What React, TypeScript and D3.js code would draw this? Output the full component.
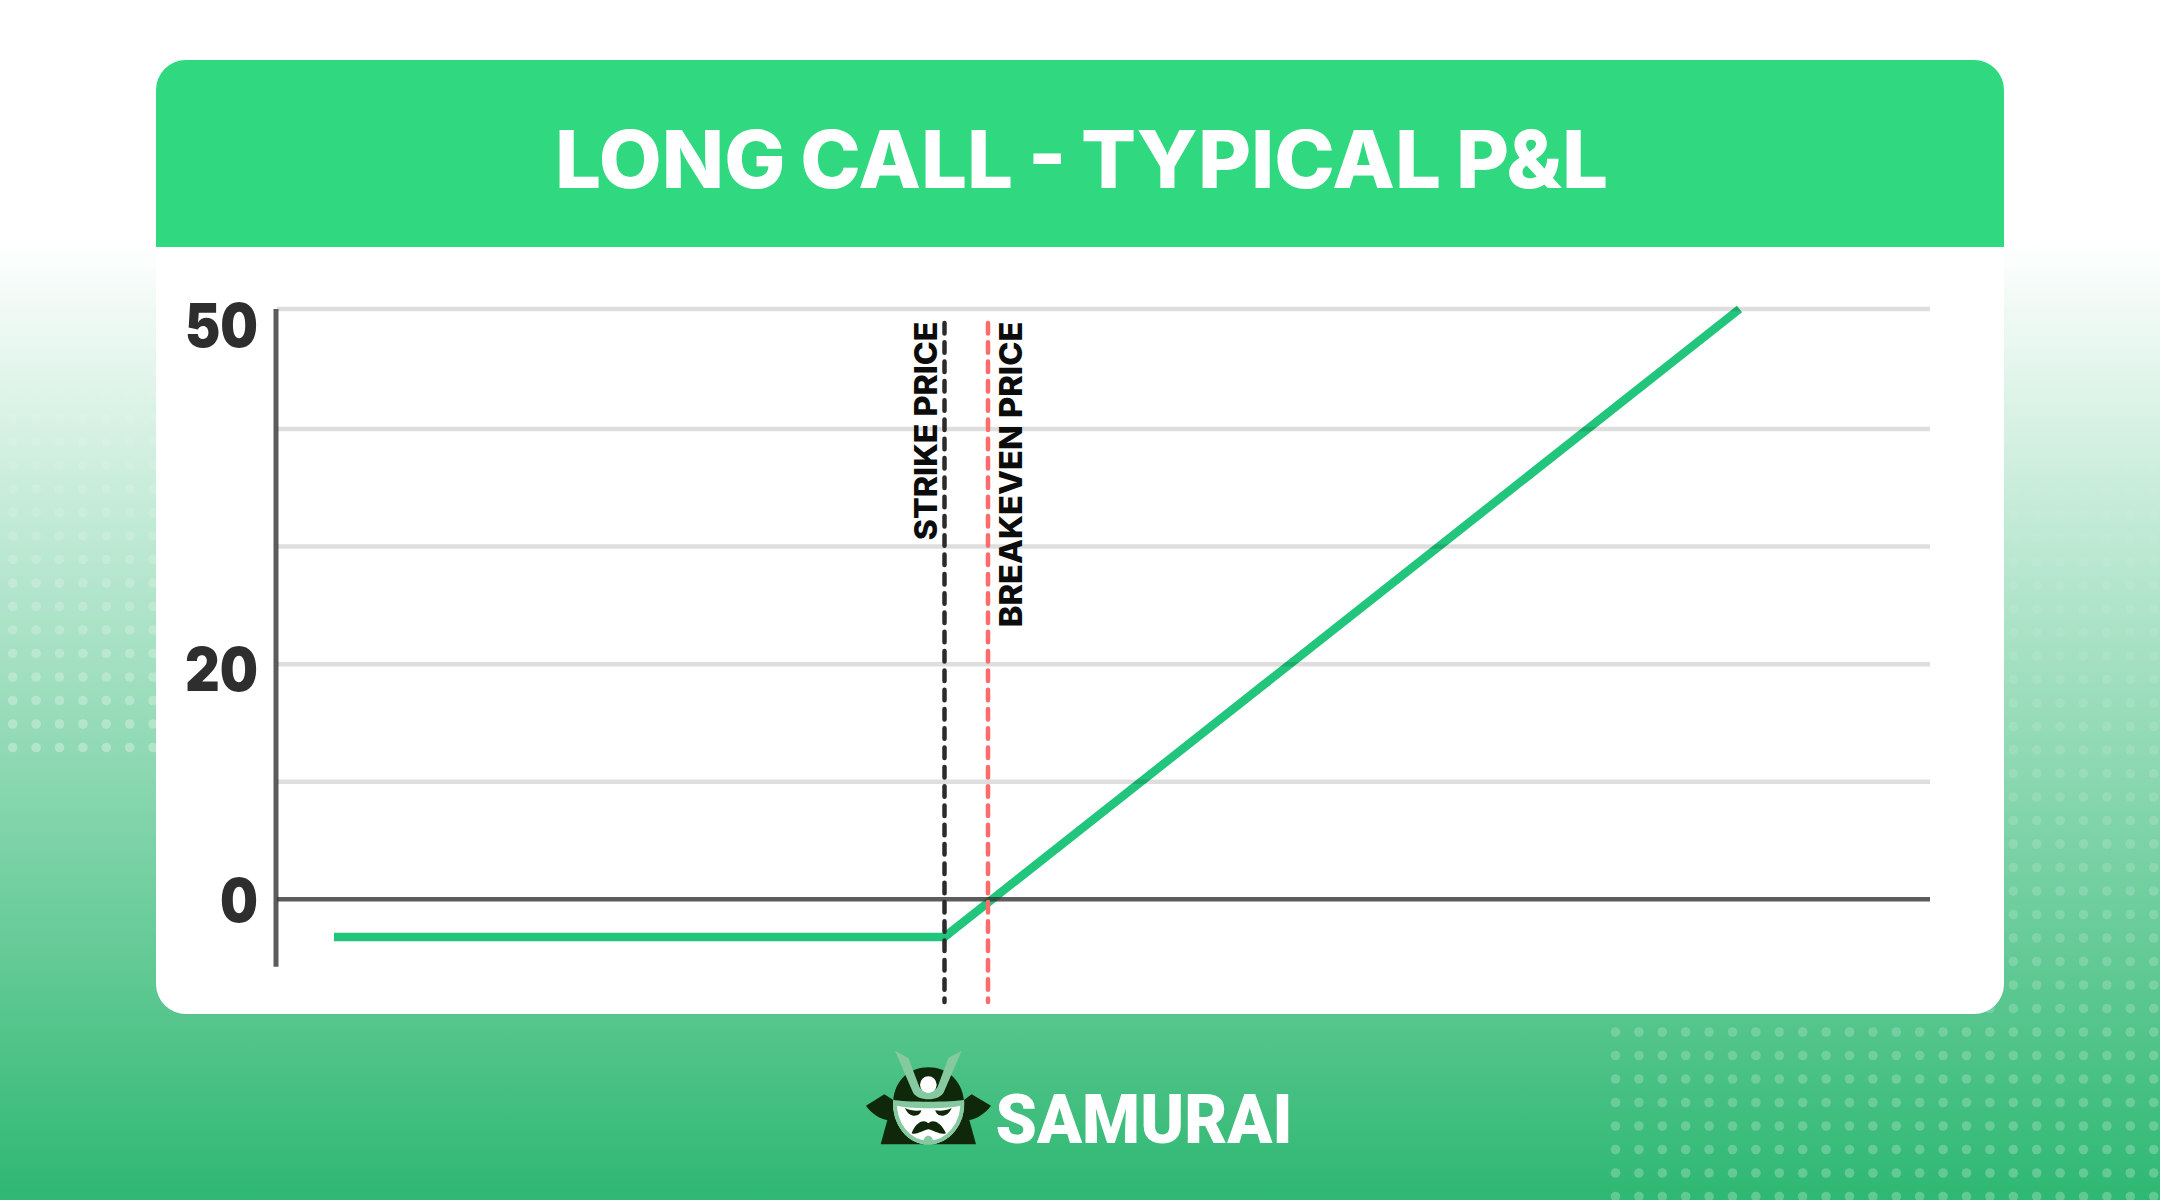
import React, { useEffect, useRef } from 'react';
import * as d3 from 'd3';

const TITLE = 'LONG CALL - TYPICAL P&L';
const BRAND = 'SAMURAI';

// payoff at expiry
const prices = [59.3, 100, 153];
const pnl = [-3.2, -3.2, 50.2];

// the top gridline sits a little above the regular spacing in the picture
const gridTicks = [10, 20, 30, 40, 50.2];
const labelTicks = [0, 20, 50];

const strikePrice = 100;
const breakevenPrice = 102.9;
const markerLabels = ['STRIKE PRICE', 'BREAKEVEN PRICE'];

const WIDTH = 2160;
const HEIGHT = 1200;
const CARD = { x: 156, y: 60, width: 1848, height: 954, radius: 30, headerBottom: 247 };
const PLOT = { left: 277, right: 1930, top: 309, bottom: 966.7 };

// the tick labels do not sit at the same distance from their gridlines
const labelBaseline: Record<number, number> = { 0: 22.7, 20: 26.5, 50: 35.6 };
const labelWidth: Record<number, number> = { 0: 38, 20: 73, 50: 73 };

const SANS = 'Inter, "Noto Sans", sans-serif';

const App: React.FC = () => {
  const chartRef = useRef<SVGSVGElement>(null);

  useEffect(() => {
    if (!chartRef.current) return;
    document.body.style.margin = '0';

    // Clear previous render
    const svg = d3.select(chartRef.current);
    svg.selectAll('*').remove();

    const defs = svg.append('defs');

    const bg = defs.append('linearGradient')
      .attr('id', 'bg-gradient')
      .attr('gradientUnits', 'userSpaceOnUse')
      .attr('x1', 0).attr('y1', 240)
      .attr('x2', 0).attr('y2', HEIGHT);
    bg.append('stop').attr('offset', '0%').attr('stop-color', '#ffffff');
    bg.append('stop').attr('offset', '100%').attr('stop-color', '#2eb872');

    defs.append('clipPath')
      .attr('id', 'card-clip')
      .append('rect')
      .attr('x', CARD.x).attr('y', CARD.y)
      .attr('width', CARD.width).attr('height', CARD.height)
      .attr('rx', CARD.radius);

    // Background
    svg.append('rect')
      .attr('width', WIDTH).attr('height', HEIGHT)
      .attr('fill', 'url(#bg-gradient)');

    const dots = svg.append('g').attr('fill', '#fff');

    // left dot block
    d3.range(18).forEach(r => {
      const cy = 348 + r * 23.5;
      d3.range(7).forEach(c => {
        dots.append('circle')
          .attr('cx', 12.7 + c * 23.4).attr('cy', cy).attr('r', 4.8)
          .attr('opacity', 0.03 + (r / 17) * 0.27);
      });
    });

    // right dot block, runs under the card
    d3.range(32).forEach(r => {
      const cy = 468 + r * 23.5;
      d3.range(24).forEach(c => {
        dots.append('circle')
          .attr('cx', 1615.5 + c * 23.4).attr('cy', cy).attr('r', 4.8)
          .attr('opacity', 0.04 + (r / 31) * 0.2);
      });
    });

    // Card
    svg.append('rect')
      .attr('x', CARD.x).attr('y', CARD.y)
      .attr('width', CARD.width).attr('height', CARD.height)
      .attr('rx', CARD.radius)
      .attr('fill', '#fff');

    svg.append('rect')
      .attr('x', CARD.x).attr('y', CARD.y)
      .attr('width', CARD.width).attr('height', CARD.headerBottom - CARD.y)
      .attr('clip-path', 'url(#card-clip)')
      .attr('fill', '#30d97f');

    svg.append('text')
      .attr('x', 555).attr('y', 188)
      .attr('textLength', 1053)
      .attr('lengthAdjust', 'spacingAndGlyphs')
      .attr('font-family', SANS)
      .attr('font-weight', 800)
      .attr('font-size', 80)
      .attr('word-spacing', -3)
      .attr('fill', '#fff')
      .text(TITLE);

    // Scales
    const xScale = d3.scaleLinear().domain([55.5, 165.7]).range([PLOT.left, PLOT.right]);
    const yScale = d3.scaleLinear().domain([-5.73, 50.2]).range([PLOT.bottom, PLOT.top]);

    // Payoff line goes under the grid, the grid shows through at the top end
    const line = d3.line<number>()
      .x(d => xScale(d))
      .y((_, i) => yScale(pnl[i]));

    svg.append('path')
      .datum(prices)
      .attr('fill', 'none')
      .attr('stroke', '#22c57c')
      .attr('stroke-width', 8.5)
      .attr('stroke-linejoin', 'miter')
      .attr('d', line);

    // Gridlines
    const grid = svg.append('g')
      .attr('transform', `translate(${PLOT.left},0)`)
      .call(d3.axisRight(yScale)
        .tickValues(gridTicks)
        .tickSize(PLOT.right - PLOT.left)
        .tickFormat(() => '')
        .offset(0));
    grid.select('.domain').remove();
    grid.selectAll('.tick line')
      .attr('stroke', '#000')
      .attr('stroke-opacity', 0.13)
      .attr('stroke-width', 4.5);

    // Y axis with labels
    const yAxis = svg.append('g')
      .attr('transform', `translate(276,0)`)
      .call(d3.axisLeft(yScale)
        .tickValues(labelTicks)
        .tickSize(0)
        .tickSizeOuter(0)
        .tickFormat(d => `${d}`)
        .offset(0));
    yAxis.select('.domain')
      .attr('stroke', '#333')
      .attr('stroke-opacity', 0.8)
      .attr('stroke-width', 5);
    yAxis.selectAll<SVGTextElement, number>('.tick text')
      .attr('x', -18)
      .attr('y', d => labelBaseline[d])
      .attr('dy', 0)
      .attr('textLength', d => labelWidth[d])
      .attr('lengthAdjust', 'spacingAndGlyphs')
      .attr('font-family', SANS)
      .attr('font-weight', 900)
      .attr('font-size', 61)
      .attr('fill', '#2e2e2e');

    // Zero line
    const xAxis = svg.append('g')
      .attr('transform', `translate(0,${yScale(0)})`)
      .call(d3.axisBottom(xScale).tickValues([]).tickSizeOuter(0).offset(0));
    xAxis.select('.domain')
      .attr('stroke', '#333')
      .attr('stroke-opacity', 0.8)
      .attr('stroke-width', 4.5);

    // Strike and breakeven markers
    const markers = [
      { price: strikePrice, color: '#2b2b2b', label: markerLabels[0], base: -8, length: 218.5 },
      { price: breakevenPrice, color: '#ff6b6b', label: markerLabels[1], base: 33.5, length: 305.5 }
    ];

    markers.forEach(m => {
      const mx = xScale(m.price);
      svg.append('line')
        .attr('x1', mx).attr('x2', mx)
        .attr('y1', 323).attr('y2', 1002)
        .attr('stroke', m.color)
        .attr('stroke-width', 4.5)
        .attr('stroke-linecap', 'round')
        .attr('stroke-dasharray', '10.5 8.8');

      svg.append('text')
        .attr('transform', `translate(${mx + m.base},${321.7 + m.length}) rotate(-90)`)
        .attr('textLength', m.length)
        .attr('lengthAdjust', 'spacingAndGlyphs')
        .attr('font-family', SANS)
        .attr('font-weight', 800)
        .attr('font-size', 31.5)
        .attr('fill', '#0c0c0c')
        .text(m.label);
    });

    // Logo
    const logo = svg.append('g').attr('transform', 'translate(860,1040) scale(0.3333)');
    const dark = '#10280a';
    const pale = '#85c9a0';
    logo.append('path').attr('fill', dark)
      .attr('d', 'M18 197 L73 163 L100 180 C105 120 150 82 205 82 C260 82 305 120 312 180 L335 163 L393 197 C375 222 350 236 328 240 L348 313 L62 313 L82 240 C60 236 35 222 18 197 Z');
    logo.append('path').attr('fill', '#fff')
      .attr('d', 'M100 182 C130 192 280 192 312 182 C316 250 270 313 205 313 C140 313 96 250 100 182 Z');
    logo.append('path').attr('fill', 'none').attr('stroke', pale).attr('stroke-width', 12)
      .attr('d', 'M105 185 C102 250 145 308 205 308 C265 308 310 250 307 185');
    logo.append('path').attr('fill', pale)
      .attr('d', 'M99 179 C130 187 280 187 313 179 L308 195 C275 208 140 208 103 195 Z');
    logo.append('path').attr('fill', pale)
      .attr('d', 'M105 32 L145 54 L178 140 C185 158 225 158 233 140 L265 54 L305 32 L252 155 C240 185 170 185 158 155 Z');
    logo.append('circle').attr('cx', 205).attr('cy', 134).attr('r', 25).attr('fill', '#fff');
    logo.append('path').attr('fill', dark)
      .attr('d', 'M135 204 C150 212 170 214 184 211 C180 232 148 236 135 204 Z');
    logo.append('path').attr('fill', dark)
      .attr('d', 'M275 204 C260 212 240 214 226 211 C230 232 262 236 275 204 Z');
    logo.append('path').attr('fill', dark)
      .attr('d', 'M155 280 C165 250 190 234 205 250 C220 234 245 250 258 280 C240 286 225 272 205 268 C185 272 170 286 155 280 Z');
    logo.append('path').attr('fill', pale)
      .attr('d', 'M190 308 C190 280 220 280 220 308 Z');

    svg.append('text')
      .attr('x', 995.5).attr('y', 1143)
      .attr('textLength', 297)
      .attr('lengthAdjust', 'spacingAndGlyphs')
      .attr('font-family', 'Roboto, sans-serif')
      .attr('font-weight', 900)
      .attr('font-size', 68)
      .attr('fill', '#fff')
      .text(BRAND);
  }, []);

  return (
    <svg
      ref={chartRef}
      width={WIDTH}
      height={HEIGHT}
      style={{ display: 'block', position: 'absolute', left: 0, top: 0 }}
    />
  );
};

export default App;
